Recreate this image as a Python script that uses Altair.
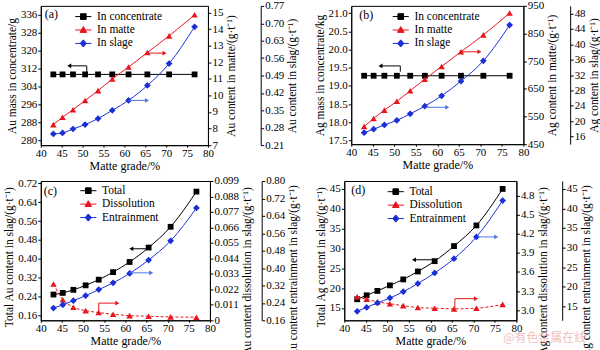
import altair as alt
import pandas as pd

# ---------------- data ----------------
matte_grade = [43.0, 45.2, 47.7, 50.6, 53.7, 57.1, 61.0, 65.5, 70.7, 76.8]
x_ticks = [40, 45, 50, 55, 60, 65, 70, 75, 80]

# (a) Au
au_in_concentrate = [309.5, 309.5, 309.5, 309.5, 309.5, 309.5, 309.5, 309.5, 309.5, 309.5]
au_in_matte = [8.24, 8.68, 9.14, 9.69, 10.29, 10.99, 11.71, 12.59, 13.59, 14.86]
au_in_slag = [0.255, 0.259, 0.275, 0.293, 0.317, 0.350, 0.390, 0.450, 0.538, 0.686]

# (b) Ag
ag_in_concentrate = [19.28, 19.28, 19.28, 19.28, 19.28, 19.28, 19.28, 19.28, 19.28, 19.28]
ag_in_matte = [514, 543, 573, 605, 643, 685, 731, 784, 845, 924]
ag_in_slag = [17.0, 17.9, 19.0, 20.2, 21.9, 23.9, 26.6, 30.4, 35.7, 45.0]

# (c) Au in slag
au_total = [0.249, 0.256, 0.269, 0.288, 0.312, 0.344, 0.387, 0.448, 0.536, 0.685]
au_dissolution = [0.0258, 0.0146, 0.0093, 0.0069, 0.0055, 0.0043, 0.0033, 0.0029, 0.0024, 0.0022]
au_entrainment = [0.216, 0.231, 0.250, 0.273, 0.301, 0.332, 0.375, 0.437, 0.525, 0.676]

# (d) Ag in slag
ag_total = [17.2, 18.2, 19.3, 20.7, 22.2, 24.2, 26.8, 30.6, 35.8, 45.0]
ag_dissolution = [3.21, 3.17, 3.13, 3.10, 3.07, 3.04, 3.03, 3.02, 3.03, 3.09]
ag_entrainment = [13.7, 14.7, 15.85, 17.1, 18.7, 20.8, 23.5, 27.15, 32.7, 42.0]

legend_ab = ["In concentrate", "In matte", "In slage"]
legend_cd = ["Total", "Dissolution", "Entrainment"]

# axis ticks
ticks_a_left = [280, 288, 296, 304, 312, 320, 328, 336]
ticks_a_matte = [7, 8, 9, 10, 11, 12, 13, 14, 15]
ticks_a_slag = [0.21, 0.28, 0.35, 0.42, 0.49, 0.56, 0.63, 0.70, 0.77]
ticks_b_left = [17.5, 18.0, 18.5, 19.0, 19.5, 20.0, 20.5, 21.0]
ticks_b_matte = [450, 550, 650, 750, 850, 950]
ticks_b_slag = [16, 20, 24, 28, 32, 36, 40, 44, 48]
ticks_c_left = [0.16, 0.24, 0.32, 0.40, 0.48, 0.56, 0.64, 0.72]
ticks_c_diss = [0, 0.011, 0.022, 0.033, 0.044, 0.055, 0.066, 0.077, 0.088, 0.099]
ticks_c_entr = [0.16, 0.24, 0.32, 0.40, 0.48, 0.56, 0.64, 0.72, 0.80]
ticks_d_left = [15, 20, 25, 30, 35, 40, 45]
ticks_d_diss = [3.0, 3.3, 3.6, 3.9, 4.2, 4.5, 4.8]
ticks_d_entr = [15, 20, 25, 30, 35, 40, 45]

# axis domains
dom_a = [[278, 340], [7, 15.4], [0.21, 0.77]]
dom_b = [[17.4, 21.2], [450, 950], [14, 50]]
dom_c = [[0.14, 0.73], [0, 0.099], [0.16, 0.80]]
dom_d = [[11.9, 47], [2.84, 5.03], [11.4, 47]]

# arrows: segments (x1, y1, x2, y2) and head (x, y, direction)
arr_a = [
    ([(51.0, 313.3, 46.8, 313.3), (51.0, 313.3, 51.0, 310.6)], (46.8, 313.3, "triangle-left")),
    ([(65.5, 12.55, 69.6, 12.55)], (69.6, 12.55, "triangle-right")),
    ([(61.0, 0.39, 65.4, 0.39)], (65.4, 0.39, "triangle-right")),
]
arr_b = [
    ([(51.4, 19.55, 46.8, 19.55), (51.4, 19.55, 51.4, 19.39)], (46.8, 19.55, "triangle-left")),
    ([(65.5, 784, 69.8, 784)], (69.8, 784, "triangle-right")),
    ([(57.1, 23.6, 62.3, 23.6)], (62.3, 23.6, "triangle-right")),
]
arr_c = [
    ([(65.5, 0.443, 61.4, 0.443)], (61.4, 0.443, "triangle-left")),
    ([(53.7, 0.0062, 53.7, 0.0122), (53.7, 0.0122, 58.1, 0.0122)], (58.1, 0.0122, "triangle-right")),
    ([(61.0, 0.378, 66.1, 0.378)], (66.1, 0.378, "triangle-right")),
]
arr_d = [
    ([(61.0, 27.15, 56.2, 27.15)], (56.2, 27.15, "triangle-left")),
    ([(65.7, 3.03, 65.7, 3.18), (65.7, 3.18, 70.6, 3.18)], (70.6, 3.18, "triangle-right")),
    ([(71.0, 32.7, 75.3, 32.7)], (75.3, 32.7, "triangle-right")),
]

# ---------------- style ----------------
FONT = "Liberation Serif"
BLACK, RED, BLUE = "#000000", "#e8141c", "#1a2fd6"
ARROW_COLORS = [BLACK, RED, "#4f74e8"]
COLORS = [BLACK, RED, BLUE]
SHAPES = ["square", "triangle-up", "diamond"]
SIZES = [34, 42, 46]
LEG_PATHS = [
    "M-2.7,0H2.7M-0.95,-0.95H0.95V0.95H-0.95Z",
    "M-2.7,0H2.7M0,-1.15L1.1,0.8H-1.1Z",
    "M-2.7,0H2.7M0,-1.2L1.05,0L0,1.2L-1.05,0Z",
]
TITLE_SIZE = 11.5


def y_axis(orient, values, fmt, title, offset=0, title_y=None):
    kw = dict(
        orient=orient, values=values, format=fmt, title=title,
        labelFont=FONT, titleFont=FONT, labelFontSize=11, titleFontSize=TITLE_SIZE,
        titleFontWeight="normal", tickSize=3, labelPadding=1, titlePadding=3,
        domainColor="black", tickColor="black", labelColor="black",
        titleColor="black", grid=False, labelOverlap=False, labelFlush=False,
        titleAngle=270, offset=offset,
    )
    if orient == "right":
        kw["titleBaseline"] = "top"
    else:
        kw["titleBaseline"] = "bottom"
    if title_y is not None:
        kw["titleY"] = title_y
    return alt.Axis(**kw)


X_AXIS = alt.Axis(
    values=x_ticks, title="Matte grade/%", labelFont=FONT, titleFont=FONT,
    labelFontSize=11, titleFontSize=12, titleFontWeight="normal", tickSize=2,
    labelPadding=0, titlePadding=2, domainColor="black", tickColor="black",
    labelColor="black", titleColor="black", grid=False, labelFlush=False,
    labelOverlap=False,
)


def panel(series, axes, domains, arrows, names, label, leg_xy, label_xy,
          width, height, dashes, extra=None):
    xscale = alt.Scale(domain=[40, 80], nice=False, zero=False)
    xenc = alt.X("x:Q", scale=xscale, axis=X_AXIS)
    inner = []
    for i in range(3):
        df = pd.DataFrame({"x": matte_grade, "y": series[i]})
        ys = alt.Scale(domain=domains[i], nice=False, zero=False)
        yenc = alt.Y("y:Q", scale=ys, axis=axes[i])
        line_kw = dict(color=COLORS[i], strokeWidth=1, interpolate="monotone")
        if dashes[i]:
            line_kw["strokeDash"] = dashes[i]
        line = alt.Chart(df).mark_line(**line_kw).encode(x=xenc, y=yenc)
        pts = alt.Chart(df).mark_point(
            shape=SHAPES[i], filled=True, color=COLORS[i], size=SIZES[i], opacity=1
        ).encode(x=xenc, y=yenc)
        segs, head = arrows[i]
        seg_df = pd.DataFrame(segs, columns=["x", "y", "x2", "y2"])
        rule = alt.Chart(seg_df).mark_rule(color=ARROW_COLORS[i], strokeWidth=1).encode(
            x=xenc, x2="x2:Q", y=yenc, y2="y2:Q",
        )
        head_df = pd.DataFrame([head], columns=["x", "y", "s"])
        hd = alt.Chart(head_df).mark_point(
            shape=head[2], filled=True, color=ARROW_COLORS[i], size=22, opacity=1
        ).encode(x=xenc, y=yenc)
        parts = [line, pts, rule, hd]
        if i == 0:
            leg = alt.Legend(
                orient="none", legendX=leg_xy[0], legendY=leg_xy[1], title=None,
                padding=0, symbolSize=36, symbolStrokeWidth=1, labelOffset=8,
                labelFont=FONT, labelFontSize=11.5, labelColor="black",
                rowPadding=0.5, symbolOpacity=1, labelLimit=200,
            )
            cscale = alt.Scale(domain=names, range=COLORS)
            sscale = alt.Scale(domain=names, range=LEG_PATHS)
            leg_layer = alt.Chart(pd.DataFrame({"series": names})).mark_point(
                filled=True, opacity=0, strokeWidth=1
            ).encode(
                x=alt.value(0), y=alt.value(0),
                fill=alt.Fill("series:N", scale=cscale, legend=leg),
                stroke=alt.Stroke("series:N", scale=cscale, legend=leg),
                shape=alt.Shape("series:N", scale=sscale, legend=leg),
            )
            lab = alt.Chart(pd.DataFrame({"t": [label]})).mark_text(
                align="left", baseline="middle", font=FONT, fontSize=12,
                color="black", x=label_xy[0], y=label_xy[1],
            ).encode(text="t:N")
            parts += [leg_layer, lab]
            if extra is not None:
                parts.append(extra)
        inner.append(alt.layer(*parts))
    return alt.layer(*inner).resolve_scale(y="independent").properties(
        width=width, height=height
    )


pa = panel(
    [au_in_concentrate, au_in_matte, au_in_slag],
    [y_axis("left", ticks_a_left, "d", "Au mass in concentrate/g"),
     y_axis("right", ticks_a_matte, "d", "Au content in matte/(g·t⁻¹)"),
     y_axis("right", ticks_a_slag, ".2f", "Au content in slag/(g·t⁻¹)", offset=53)],
    dom_a, arr_a, legend_ab, "(a)", (37, 5), (4, 8), 168, 140, [None, None, None],
)
pb = panel(
    [ag_in_concentrate, ag_in_matte, ag_in_slag],
    [y_axis("left", ticks_b_left, ".1f", "Ag mass in concentrate/kg"),
     y_axis("right", ticks_b_matte, "d", "Ag content in matte/(g·t⁻¹)"),
     y_axis("right", ticks_b_slag, "d", "Ag content in slag/(g·t⁻¹)", offset=47)],
    dom_b, arr_b, legend_ab, "(b)", (44, 5), (8, 9), 173, 139, [None, None, None],
)
pc = panel(
    [au_total, au_dissolution, au_entrainment],
    [y_axis("left", ticks_c_left, ".2f", "Total Au content in slag/(g·t⁻¹)", title_y=76),
     y_axis("right", ticks_c_diss, ".3~f", "Au content dissolution in slag/(g·t⁻¹)", title_y=90),
     y_axis("right", ticks_c_entr, ".2f", "Au content entrainment in slag/(g·t⁻¹)", offset=52, title_y=90)],
    dom_c, arr_c, legend_cd, "(c)", (42, 4), (3, 10), 170, 140, [None, [3, 2], None],
)
watermark = alt.Chart(pd.DataFrame({"t": ["@有色金属在线"]})).mark_text(
    align="right", baseline="middle", font="Noto Sans CJK SC", fontSize=12,
    color="#e58a8a", opacity=0.55, x=243, y=158,
).encode(text="t:N")
pd_ = panel(
    [ag_total, ag_dissolution, ag_entrainment],
    [y_axis("left", ticks_d_left, "d", "Total Ag content in slag/(g·t⁻¹)", title_y=76),
     y_axis("right", ticks_d_diss, ".1f", "Ag content dissolution in slag/(g·t⁻¹)", title_y=90),
     y_axis("right", ticks_d_entr, "d", "Ag content entrainment in slag/(g·t⁻¹)", offset=46, title_y=90)],
    dom_d, arr_d, legend_cd, "(d)", (46, 5), (7, 9), 173, 140, [None, [3, 2], None],
    extra=watermark,
)

res = dict(fill="independent", stroke="independent", shape="independent")
row1 = alt.hconcat(pa, pb, spacing=14).resolve_scale(**res).resolve_legend(
    fill="independent", stroke="independent", shape="independent")
row2 = alt.hconcat(pc, pd_, spacing=14).resolve_scale(**res).resolve_legend(
    fill="independent", stroke="independent", shape="independent")
chart = alt.vconcat(row1, row2, spacing=2).resolve_scale(**res).resolve_legend(
    fill="independent", stroke="independent", shape="independent"
).properties(
    padding={"left": 3, "top": -2, "right": 0, "bottom": 0}, background="white"
).configure_view(stroke="black", strokeWidth=1).configure_axis(domainWidth=1, tickWidth=1)

chart.save("out.html", embed_options={"renderer": "svg", "actions": False})
